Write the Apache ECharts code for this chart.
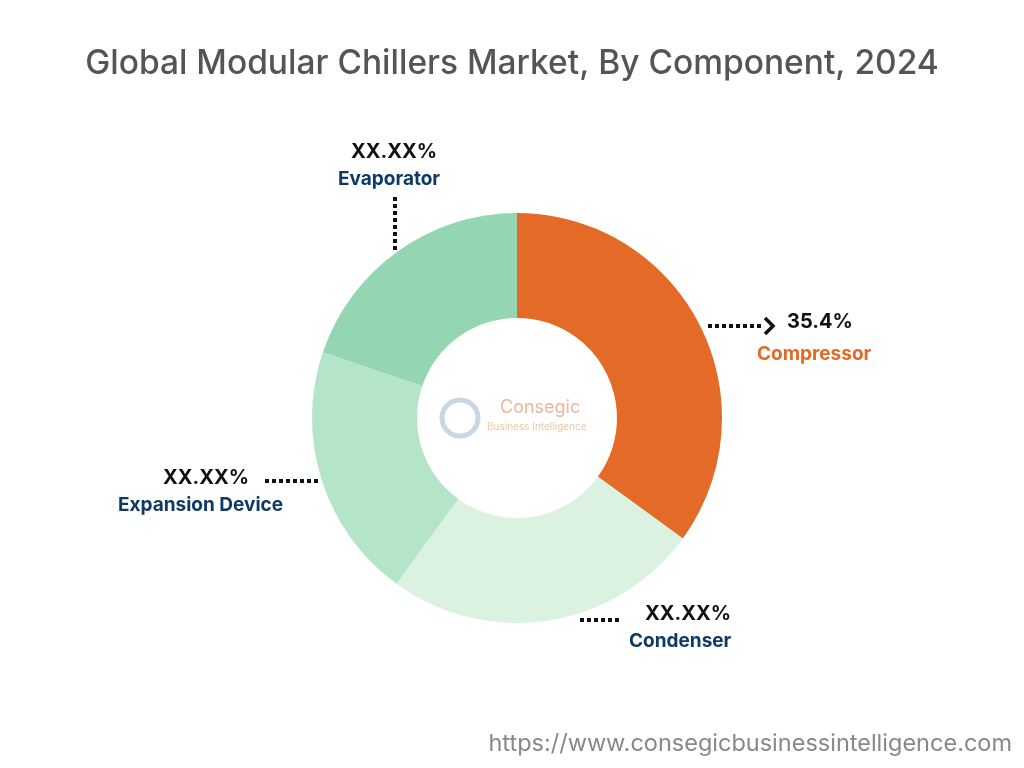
<!DOCTYPE html>
<html><head><meta charset="utf-8">
<script src="https://cdn.jsdelivr.net/npm/echarts@6/dist/echarts.min.js"></script>
<style>html,body{margin:0;background:#fff}#c{width:1024px;height:768px}</style>
</head><body><div id="c"></div>
<script>
const categories = ['Compressor','Condenser','Expansion Device','Evaporator'];
const values = [35.0, 25.0, 20.2, 19.8];
const labels = ['35.4%','XX.XX%','XX.XX%','XX.XX%'];
const colors = ['#E36A27','#DAF2DF','#B5E5C8','#94D6B2'];

const chart = echarts.init(document.getElementById('c'));
const dot = {stroke:'#111', lineWidth:4, lineDash:[4,3]};
const valStyle = {fill:'#111', font:'bold 20px Inter'};
const nameStyle = (c)=>({fill:c, font:'bold 19px Inter'});
chart.setOption({
  animation:false,
  title:{text:'Global Modular Chillers Market, By Component, 2024', left:'center', top:42,
    textStyle:{fontFamily:'Inter', fontWeight:500, fontSize:33.5, color:'#555'}},
  series:[{type:'pie', center:[517,418], radius:[100,205], startAngle:90, clockwise:true,
    label:{show:false}, labelLine:{show:false}, silent:true,
    data:categories.map((n,i)=>({name:n, value:values[i], itemStyle:{color:colors[i]}}))}],
  graphic:[
    {type:'line', shape:{x1:708,y1:326,x2:764,y2:326}, style:dot},
    {type:'polyline', shape:{points:[[765,318],[773,326],[765,334]]}, style:{stroke:'#111',lineWidth:3.5,fill:null}},
    {type:'text', left:787, top:312, style:Object.assign({text:labels[0]},valStyle)},
    {type:'text', left:757, top:345, style:Object.assign({text:categories[0]},nameStyle('#E36A27'))},
    {type:'line', shape:{x1:580,y1:620,x2:620,y2:620}, style:dot},
    {type:'text', left:645, top:604, style:Object.assign({text:labels[1]},valStyle)},
    {type:'text', left:629, top:632, style:Object.assign({text:categories[1]},nameStyle('#0D3A66'))},
    {type:'line', shape:{x1:265,y1:481,x2:318,y2:481}, style:dot},
    {type:'text', left:163, top:468, style:Object.assign({text:labels[2]},valStyle)},
    {type:'text', left:118, top:496, style:Object.assign({text:categories[2]},nameStyle('#0D3A66'))},
    {type:'line', shape:{x1:395,y1:197,x2:395,y2:250}, style:dot},
    {type:'text', left:351, top:142, style:Object.assign({text:labels[3]},valStyle)},
    {type:'text', left:338, top:170, style:Object.assign({text:categories[3]},nameStyle('#0D3A66'))},
    {type:'circle', shape:{cx:460,cy:418,r:18}, style:{fill:null, stroke:'#c9d6e6', lineWidth:5}},
    {type:'text', left:500, top:399, style:{text:'Consegic', fill:'#eab79a', font:'18px Inter'}},
    {type:'text', left:487, top:422, style:{text:'Business Intelligence', fill:'#e8c8a8', font:'10px Inter'}},
    {type:'text', right:12, bottom:12, style:{text:'https://www.consegicbusinessintelligence.com', fill:'#888', font:'23.5px Inter'}}
  ]
});
</script></body></html>
